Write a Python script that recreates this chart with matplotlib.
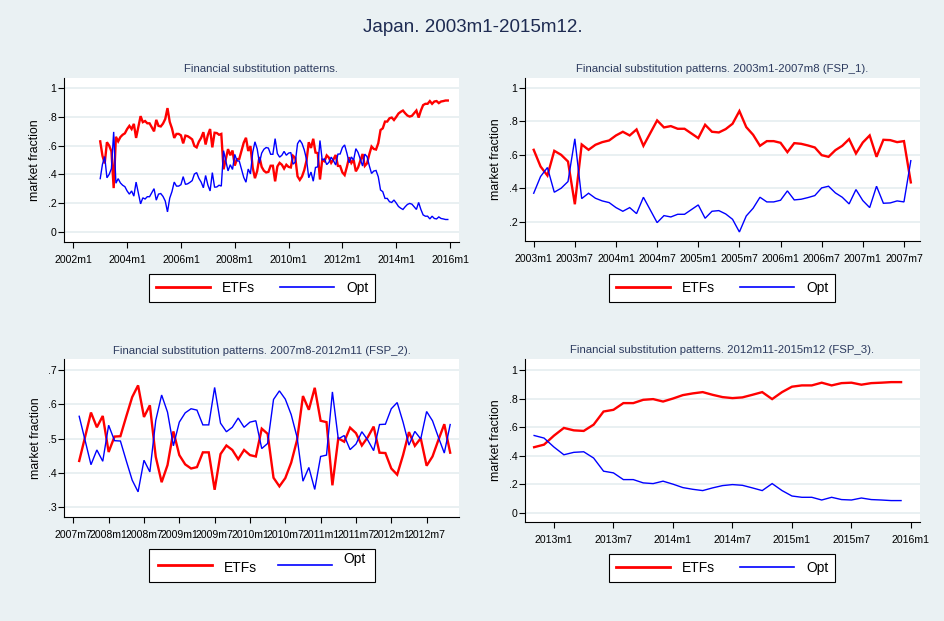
import matplotlib
matplotlib.use("Agg")
import matplotlib.pyplot as plt
import pandas as pd

plt.rcParams['font.family'] = ['Liberation Sans', 'DejaVu Sans']

# ---------------- data ----------------
months = pd.period_range('2003-01', '2015-12', freq='M')

etf = [
    # 2003m1 - 2007m8
    0.630, 0.530, 0.476, 0.624, 0.600, 0.560, 0.304, 0.662, 0.630, 0.660,
    0.676, 0.686, 0.716, 0.738, 0.716, 0.752, 0.654, 0.730, 0.806, 0.764,
    0.772, 0.756, 0.756, 0.728, 0.700, 0.780, 0.738, 0.734, 0.754, 0.786,
    0.862, 0.766, 0.720, 0.654, 0.682, 0.682, 0.672, 0.616, 0.670, 0.666,
    0.656, 0.644, 0.598, 0.588, 0.628, 0.654, 0.694, 0.608, 0.674, 0.716,
    0.588, 0.690, 0.688, 0.676, 0.682, 0.435,
    # 2007m9 - 2012m11
    0.505, 0.576, 0.533, 0.566, 0.461, 0.506, 0.507, 0.565, 0.621, 0.655,
    0.563, 0.597, 0.447, 0.373, 0.423, 0.521, 0.452, 0.425, 0.413, 0.417,
    0.460, 0.460, 0.351, 0.455, 0.480, 0.467, 0.440, 0.467, 0.452, 0.448,
    0.529, 0.514, 0.386, 0.361, 0.385, 0.430, 0.496, 0.624, 0.584, 0.648,
    0.552, 0.548, 0.364, 0.501, 0.491, 0.532, 0.516, 0.480, 0.504, 0.535,
    0.459, 0.458, 0.413, 0.395, 0.452, 0.519, 0.479, 0.501, 0.421, 0.448,
    0.496, 0.542, 0.459,
    # 2012m12 - 2015m12
    0.477, 0.540, 0.594, 0.577, 0.573, 0.617, 0.709, 0.721, 0.768, 0.768,
    0.791, 0.796, 0.779, 0.800, 0.824, 0.836, 0.845, 0.826, 0.810, 0.803,
    0.808, 0.826, 0.845, 0.796, 0.845, 0.883, 0.892, 0.892, 0.911, 0.892,
    0.908, 0.911, 0.897, 0.908, 0.911, 0.915, 0.915,
]

opt = [
    # 2003m1 - 2007m8
    0.370, 0.470, 0.524, 0.376, 0.400, 0.440, 0.696, 0.338, 0.370, 0.340,
    0.324, 0.314, 0.284, 0.262, 0.284, 0.248, 0.346, 0.270, 0.194, 0.236,
    0.228, 0.244, 0.244, 0.272, 0.300, 0.220, 0.262, 0.266, 0.246, 0.214,
    0.138, 0.234, 0.280, 0.346, 0.318, 0.318, 0.328, 0.384, 0.330, 0.334,
    0.344, 0.356, 0.402, 0.412, 0.372, 0.346, 0.306, 0.392, 0.326, 0.284,
    0.412, 0.310, 0.312, 0.324, 0.318, 0.565,
    # 2007m9 - 2012m11
    0.495, 0.424, 0.467, 0.434, 0.539, 0.494, 0.493, 0.435, 0.379, 0.345,
    0.437, 0.403, 0.553, 0.627, 0.577, 0.479, 0.548, 0.575, 0.587, 0.583,
    0.540, 0.540, 0.649, 0.545, 0.520, 0.533, 0.560, 0.533, 0.548, 0.552,
    0.471, 0.486, 0.614, 0.639, 0.615, 0.570, 0.504, 0.376, 0.416, 0.352,
    0.448, 0.452, 0.636, 0.499, 0.509, 0.468, 0.484, 0.520, 0.496, 0.465,
    0.541, 0.542, 0.587, 0.605, 0.548, 0.481, 0.521, 0.499, 0.579, 0.552,
    0.504, 0.458, 0.541,
    # 2012m12 - 2015m12
    0.523, 0.460, 0.406, 0.423, 0.427, 0.383, 0.291, 0.279, 0.232, 0.232,
    0.209, 0.204, 0.221, 0.200, 0.176, 0.164, 0.155, 0.174, 0.190, 0.197,
    0.192, 0.174, 0.155, 0.204, 0.155, 0.117, 0.108, 0.108, 0.089, 0.108,
    0.092, 0.089, 0.103, 0.092, 0.089, 0.085, 0.085,
]

series_labels = ['ETFs', 'Opt']
main_title = 'Japan. 2003m1-2015m12.'
y_label = 'market fraction'
panel_titles = [
    'Financial substitution patterns.',
    'Financial substitution patterns. 2003m1-2007m8 (FSP_1).',
    'Financial substitution patterns. 2007m8-2012m11 (FSP_2).',
    'Financial substitution patterns. 2012m11-2015m12 (FSP_3).',
]
panel_ranges = [('2003-01', '2015-12'), ('2003-01', '2007-08'),
                ('2007-08', '2012-11'), ('2012-11', '2015-12')]
x_ticks = [
    pd.period_range('2002-01', '2016-01', freq='24M'),
    pd.period_range('2003-01', '2007-07', freq='6M'),
    pd.period_range('2007-07', '2012-07', freq='6M'),
    pd.period_range('2013-01', '2016-01', freq='6M'),
]
y_ticks = [
    [0, .2, .4, .6, .8, 1],
    [.2, .4, .6, .8, 1],
    [.3, .4, .5, .6, .7],
    [0, .2, .4, .6, .8, 1],
]

# ---------------- layout / style ----------------
W, H = 945, 621
BG = '#eaf1f3'
GRID = '#e3ecef'
NAVY = '#1e2b52'
SUBNAVY = '#2c3a5e'
RED = '#ff0000'
BLUE = '#0000ff'

# axes boxes in pixels (left, top, right, bottom)
boxes = [(64, 78, 459, 242), (525, 78, 920, 241),
         (64.3, 359.3, 459.3, 516.7), (525, 359, 920, 521.7)]
xlims = [(-16.15, 160.0), (-1.27, 56.34), (52.47, 119.55), (117.08, 156.91)]
ylims = [(-0.072, 1.072), (0.084, 1.06), (0.2726, 0.731), (-0.063, 1.077)]
legend_centers = [(262, 288), (722, 288), (262, 565.8), (722, 568.3)]


def midx(p):
    return (p.year - 2003) * 12 + (p.month - 1)


def mlabel(p):
    return f"{p.year}m{p.month}"


def ylab(v):
    s = f"{v:g}"
    if s.startswith('0.'):
        s = s[1:]
    return s


fig = plt.figure(figsize=(W / 100, H / 100), dpi=100, facecolor=BG)
fig.text(0.5, 1 - 28 / H, main_title, ha='center', va='center',
         fontsize=13.5, color=NAVY)

df = pd.DataFrame({'ETFs': etf, 'Opt': opt}, index=months)

for i in range(4):
    l, t, r, b = boxes[i]
    ax = fig.add_axes([l / W, 1 - b / H, (r - l) / W, (b - t) / H])
    ax.set_facecolor('white')
    start, end = panel_ranges[i]
    sub = df.loc[pd.Period(start, 'M'):pd.Period(end, 'M')]
    xs = [midx(p) for p in sub.index]
    ax.plot(xs, sub['ETFs'], color=RED, lw=1.7, label=series_labels[0],
            solid_joinstyle='miter', zorder=3)
    ax.plot(xs, sub['Opt'], color=BLUE, lw=1.0, label=series_labels[1],
            solid_joinstyle='miter', zorder=3)

    ax.set_xlim(*xlims[i])
    ax.set_ylim(*ylims[i])
    ax.set_xticks([midx(p) for p in x_ticks[i]])
    ax.set_xticklabels([mlabel(p) for p in x_ticks[i]])
    ax.set_yticks(y_ticks[i])
    ax.set_yticklabels([ylab(v) for v in y_ticks[i]])
    ax.grid(axis='y', color=GRID, lw=1.1, zorder=0)
    ax.set_axisbelow(True)
    for s in ('top', 'right'):
        ax.spines[s].set_visible(False)
    for s in ('left', 'bottom'):
        ax.spines[s].set_color('black')
        ax.spines[s].set_linewidth(0.8)
    ax.tick_params(axis='x', length=4, width=0.8, pad=5.5, labelsize=7.6,
                   colors='black')
    ax.tick_params(axis='y', length=4, width=0.8, pad=1.5, labelsize=7.6,
                   colors='black')
    ax.set_ylabel(y_label, fontsize=8.8, color='black')
    ax.yaxis.set_label_coords(-0.057, 0.5)
    ax.set_title(panel_titles[i], fontsize=8.2, color=SUBNAVY, pad=4)

    cx, cy = legend_centers[i]
    bp = 0.5 if i != 2 else 0.68
    cs = 1.8 if i != 2 else 1.45
    leg = ax.legend(loc='center', bbox_to_anchor=(cx / W, 1 - cy / H),
                    bbox_transform=fig.transFigure, ncol=2, fontsize=10,
                    frameon=True, fancybox=False, shadow=False,
                    edgecolor='black', facecolor='white', framealpha=1,
                    handlelength=3.9, handletextpad=0.85, columnspacing=cs,
                    borderpad=bp)
    leg.get_frame().set_linewidth(0.8)
    lines = leg.get_lines()
    lines[0].set_linewidth(2.0)
    lines[1].set_linewidth(1.2)
    if i == 2:
        txts = leg.get_texts()
        txts[1].set_position((0, 7))
        txts[0].set_position((0, -2))

fig.savefig('out.png', dpi=100, facecolor=BG)
